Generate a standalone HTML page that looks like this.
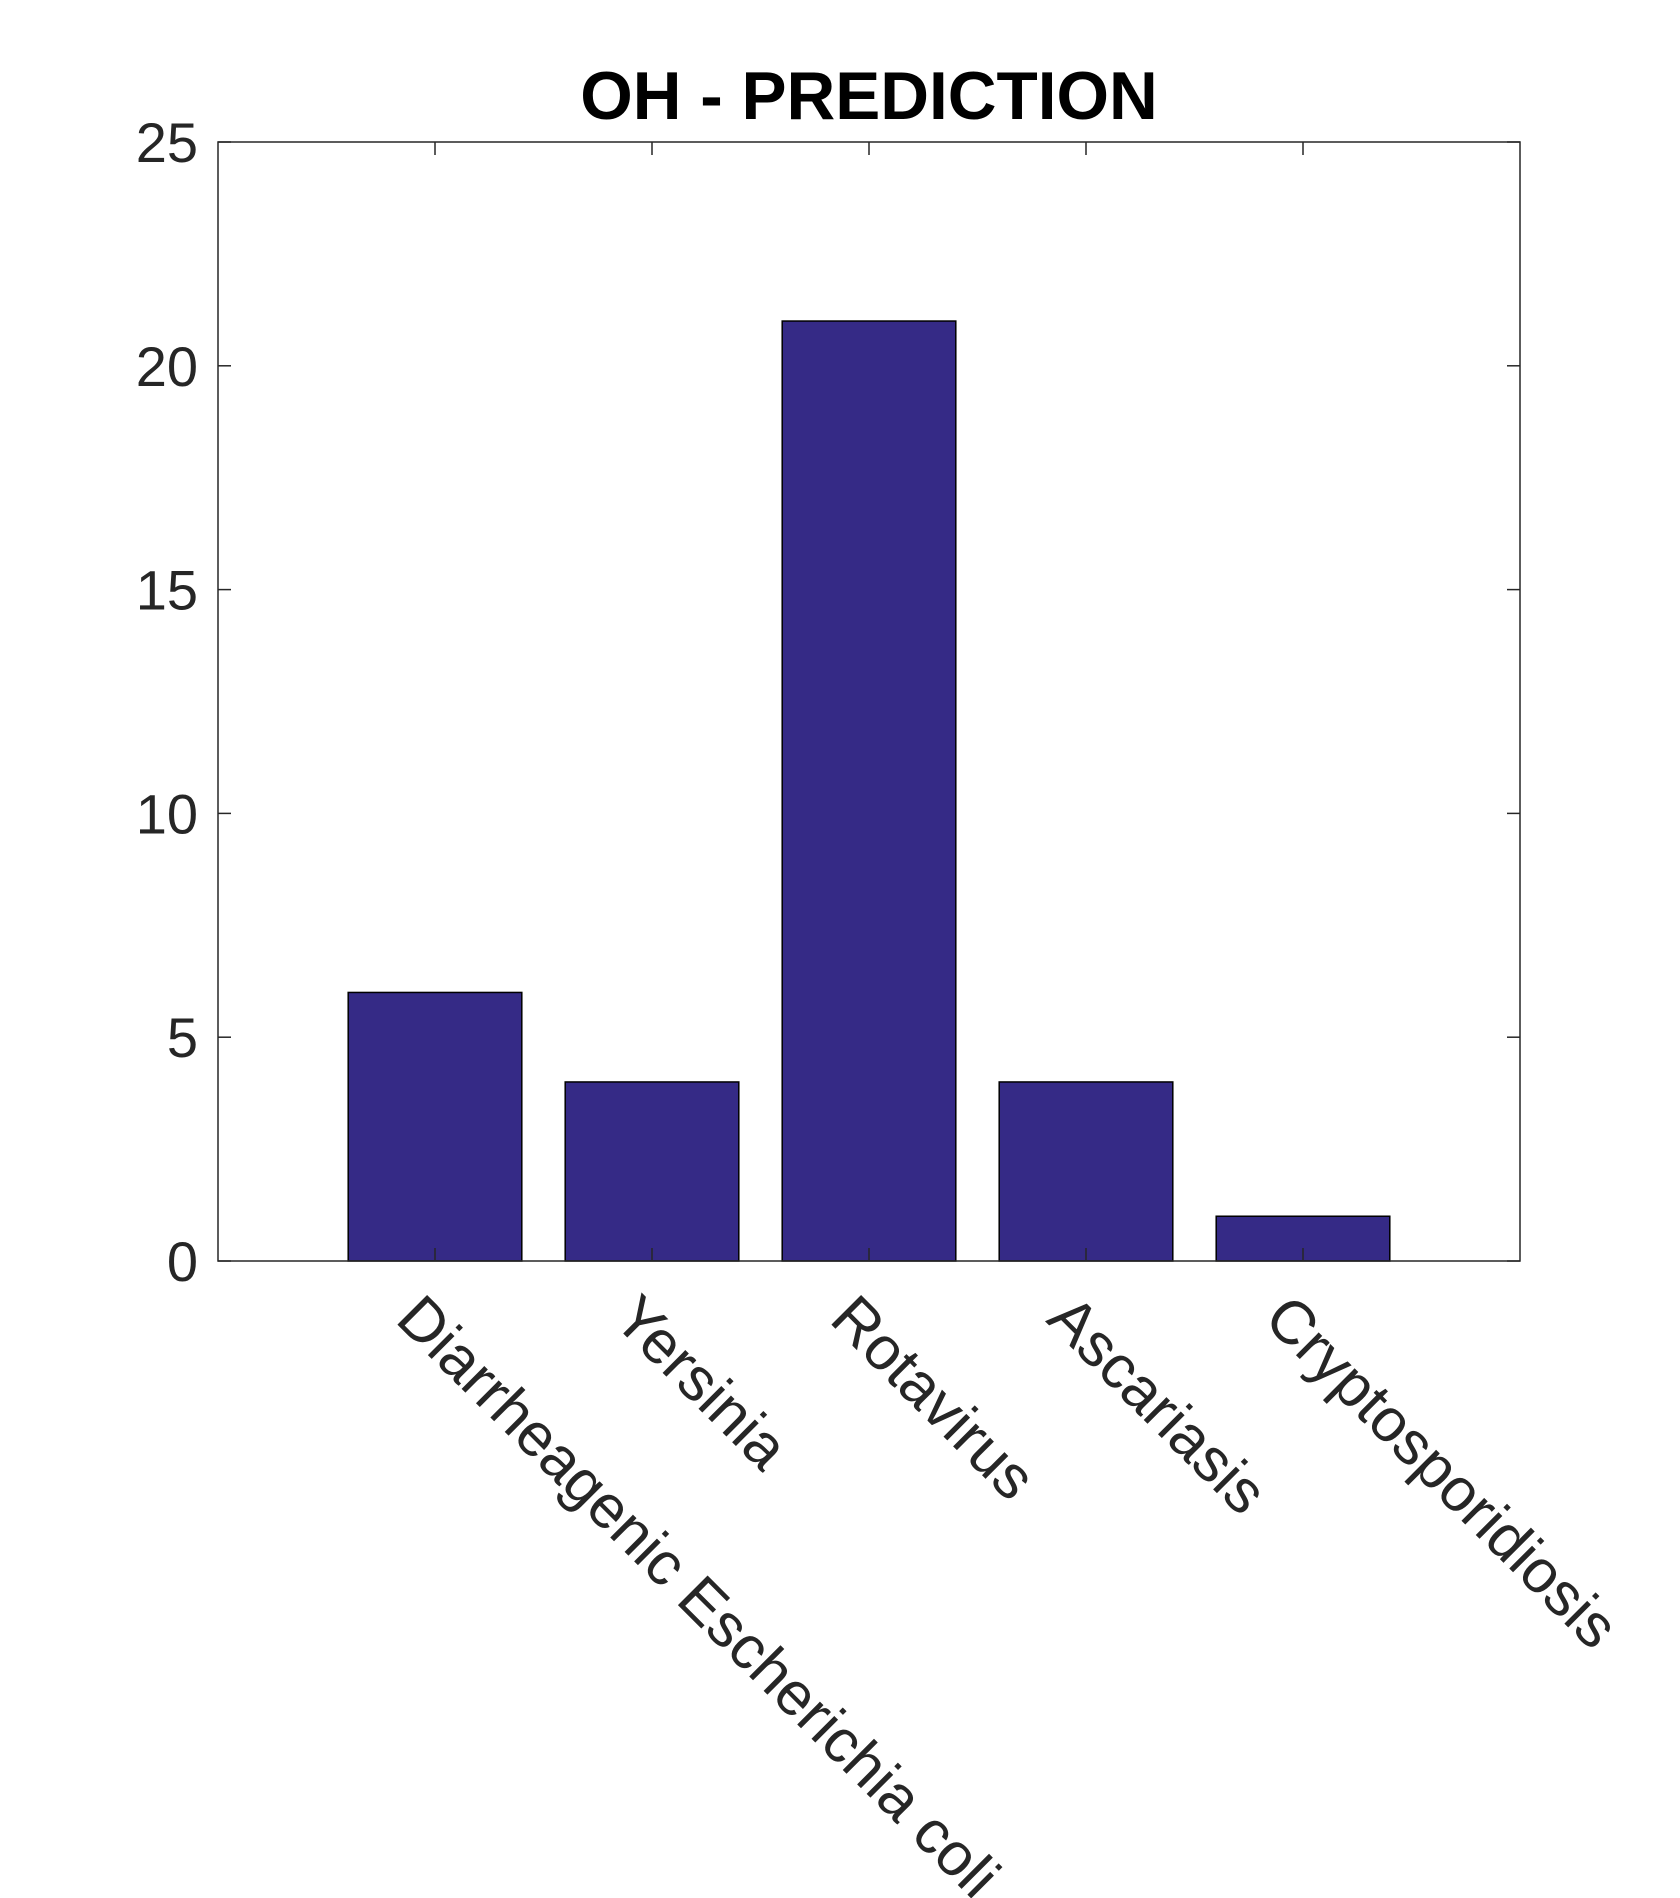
<!DOCTYPE html>
<html><head><meta charset="utf-8"><style>body{margin:0;background:#fff}svg{display:block}</style></head>
<body>
<svg id="chart" width="1680" height="1898" xmlns="http://www.w3.org/2000/svg" font-family="Liberation Sans, sans-serif">
<rect width="1680" height="1898" fill="#fff"/>
<text x="869" y="119" text-anchor="middle" font-size="67.5" font-weight="bold" fill="#000">OH - PREDICTION</text>
<g id="g"></g>
</svg>
<script>
const categories = ["Diarrheagenic Escherichia coli","Yersinia","Rotavirus","Ascariasis","Cryptosporidiosis"];
const values = [6,4,21,4,1];
const yTicks = [0,5,10,15,20,25];
const L=218,R=1520,T=142,B=1261,yMax=25,xMax=6;
const sx=v=>L+(R-L)*v/xMax, sy=v=>B-(B-T)*v/yMax;
const g=document.getElementById('g'),NS='http://www.w3.org/2000/svg';
function mk(t,a){const e=document.createElementNS(NS,t);for(const k in a)e.setAttribute(k,a[k]);g.appendChild(e);return e;}
values.forEach((v,i)=>{
  const b=mk('rect',{x:sx(i+1-0.4),y:sy(v),width:sx(0.8)-sx(0),height:sy(0)-sy(v),fill:'#352a86',stroke:'#000','stroke-width':1.5});
  
  
});
const ax=mk('rect',{x:L,y:T,width:R-L,height:B-T,fill:'none',stroke:'#262626','stroke-width':1.5});


yTicks.forEach(t=>{
  const y=sy(t);
  mk('line',{x1:L,x2:L+13,y1:y,y2:y,stroke:'#262626','stroke-width':1.5});
  mk('line',{x1:R,x2:R-13,y1:y,y2:y,stroke:'#262626','stroke-width':1.5});
  const tx=mk('text',{x:198,y:y+20,'text-anchor':'end','font-size':56,fill:'#262626'});
  tx.textContent=t;
  
  
});
categories.forEach((c,i)=>{
  const x=sx(i+1);
  mk('line',{x1:x,x2:x,y1:B,y2:B-13,stroke:'#262626','stroke-width':1.5});
  mk('line',{x1:x,x2:x,y1:T,y2:T+13,stroke:'#262626','stroke-width':1.5});
  const tx=mk('text',{x:x-10,y:1290,'font-size':61,fill:'#262626','dominant-baseline':'hanging',transform:`rotate(45 ${x-10} 1290)`});
  tx.textContent=c;
  
  
});
</script>
</body></html>
